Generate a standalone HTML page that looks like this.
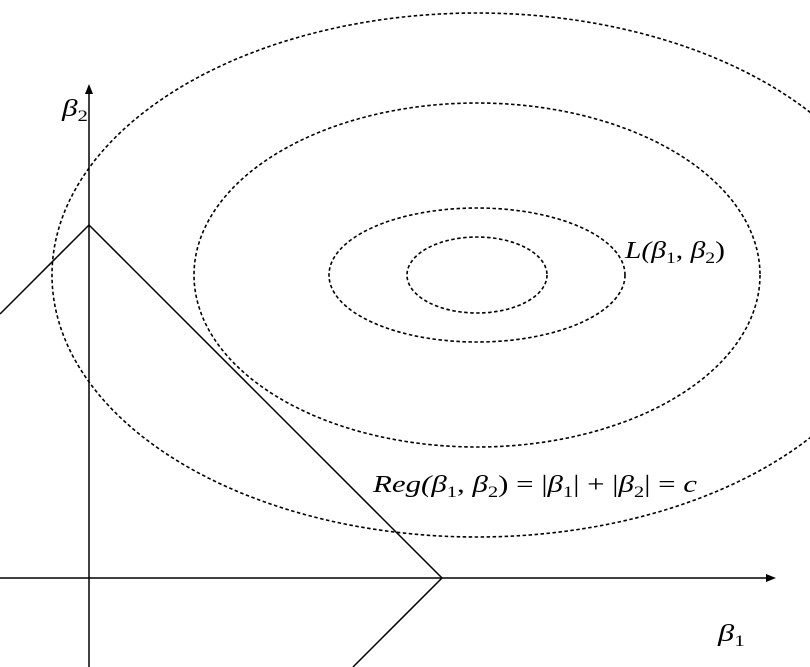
<!DOCTYPE html>
<html><head><meta charset="utf-8"><style>
html,body{margin:0;padding:0;background:#fff;width:810px;height:667px;overflow:hidden}
text{font-family:"Liberation Serif",serif;font-style:italic;font-size:24px;fill:#000}
</style></head><body>
<svg id="chart" width="810" height="667" viewBox="0 0 810 667" xmlns="http://www.w3.org/2000/svg">
<g id="contours"></g>
<line x1="0" y1="578" x2="770" y2="578" stroke="#000" stroke-width="1.5"/>
<polygon points="776,578 766,574 766,582" fill="#000"/>
<line x1="89" y1="90" x2="89" y2="667" stroke="#000" stroke-width="1.5"/>
<polygon points="89,84 85,94 93,94" fill="#000"/>
<polyline points="0,314 89,225 442,578 353,667" fill="none" stroke="#000" stroke-width="1.5"/>
<text x="62" y="116" textLength="26" lengthAdjust="spacingAndGlyphs">β<tspan font-size="16" dy="5" font-style="normal">2</tspan></text>
<text x="718" y="641" textLength="27" lengthAdjust="spacingAndGlyphs">β<tspan font-size="16" dy="5" font-style="normal">1</tspan></text>
<text x="625" y="258" textLength="100" lengthAdjust="spacingAndGlyphs">L(β<tspan font-size="16" dy="5" font-style="normal">1</tspan><tspan dy="-5" font-style="normal">, </tspan>β<tspan font-size="16" dy="5" font-style="normal">2</tspan><tspan dy="-5" font-style="normal">)</tspan></text>
<text x="373" y="492" textLength="324" lengthAdjust="spacingAndGlyphs">Reg(β<tspan font-size="16" dy="5" font-style="normal">1</tspan><tspan dy="-5" font-style="normal">, </tspan>β<tspan font-size="16" dy="5" font-style="normal">2</tspan><tspan dy="-5" font-style="normal">) = |</tspan>β<tspan font-size="16" dy="5" font-style="normal">1</tspan><tspan dy="-5" font-style="normal">| + |</tspan>β<tspan font-size="16" dy="5" font-style="normal">2</tspan><tspan dy="-5" font-style="normal">| = </tspan>c</text>
</svg>
<script>
const contourRx = [70, 148, 283, 425];
const contourRy = [38, 67, 172, 262];
const centerX = 477, centerY = 275;
const g = document.getElementById('contours');
contourRx.forEach((rx, i) => {
  const e = document.createElementNS('http://www.w3.org/2000/svg', 'ellipse');
  e.setAttribute('cx', centerX);
  e.setAttribute('cy', centerY);
  e.setAttribute('rx', rx);
  e.setAttribute('ry', contourRy[i]);
  e.setAttribute('fill', 'none');
  e.setAttribute('stroke', '#000');
  e.setAttribute('stroke-width', '1.6');
  e.setAttribute('stroke-dasharray', '3.5,2.5');
  
  
  g.appendChild(e);
});
</script>
</body></html>
